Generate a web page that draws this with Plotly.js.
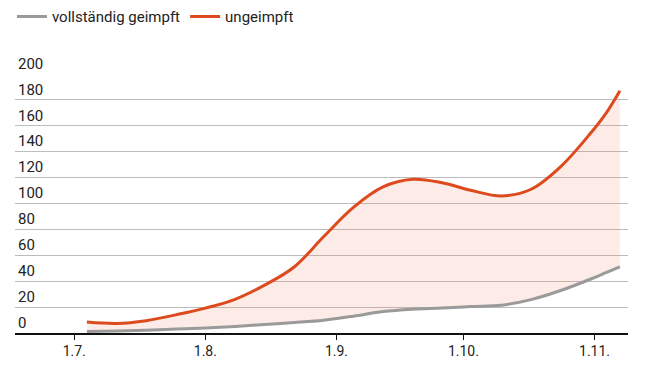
<!DOCTYPE html>
<html>
<head>
<meta charset="utf-8">
<script src="https://cdn.plot.ly/plotly-3.0.1.min.js"></script>
<style>html,body{margin:0;padding:0;background:#fff;}#chart{width:645px;height:374px;}</style>
</head>
<body>
<div id="chart"></div>
<script>
const dates = ['2021-07-04','2021-07-11','2021-07-18','2021-07-25','2021-08-01','2021-08-08','2021-08-15','2021-08-22','2021-08-29','2021-09-05','2021-09-12','2021-09-19','2021-09-26','2021-10-03','2021-10-10','2021-10-17','2021-10-24','2021-10-31','2021-11-04','2021-11-07'];
const vollstaendig = [1.2,1.6,2.2,3.0,3.8,5.0,6.6,8.1,9.9,13.0,16.6,18.4,19.3,20.5,21.5,25.8,32.8,41.5,47,51];
const ungeimpft = [8.5,7.4,9.5,14,19.2,26,37,51,74.5,97,112.8,118.7,116,110,105.8,111,128.5,154,171,187];
const tickVals = ['2021-07-01','2021-08-01','2021-09-01','2021-10-01','2021-11-01'];
const tickText = ['1.7.','1.8.','1.9.','1.10.','1.11.'];
const yTicks = [0,20,40,60,80,100,120,140,160,180,200];

const font = 'Roboto, "Noto Sans", sans-serif';
const traces = [
  {x: dates, y: vollstaendig, name: 'vollständig geimpft', type: 'scatter', mode: 'lines',
   line: {color: '#9a9a9a', width: 3, shape: 'spline', smoothing: 1}},
  {x: dates, y: ungeimpft, name: 'Abstand', type: 'scatter', mode: 'lines', showlegend: false,
   fill: 'tonexty', fillcolor: 'rgba(232,120,90,0.15)',
   line: {color: 'rgba(0,0,0,0)', width: 0, shape: 'spline', smoothing: 1}, hoverinfo: 'skip'},
  {x: dates, y: ungeimpft, name: 'ungeimpft', type: 'scatter', mode: 'lines',
   line: {color: '#dc4a1e', width: 3, shape: 'spline', smoothing: 1}}
];
const layout = {
  width: 645, height: 374,
  margin: {l: 15, r: 17, t: 74, b: 41, autoexpand: false},
  paper_bgcolor: '#fff', plot_bgcolor: '#fff',
  font: {family: font, size: 14, color: '#222'},
  showlegend: true,
  legend: {orientation: 'h', x: -0.005, xanchor: 'left', y: 1.285, yanchor: 'top',
           font: {size: 15, color: '#222'}, itemwidth: 30, traceorder: 'normal'},
  xaxis: {type: 'date', range: ['2021-06-17', '2021-11-08 22:00'],
          tickvals: tickVals, ticktext: tickText,
          showgrid: false, zeroline: false, showline: true, linecolor: '#111', linewidth: 1.5,
          ticks: 'outside', ticklen: 5, tickcolor: '#111', tickwidth: 1,
          tickfont: {size: 14, color: '#222'}, fixedrange: true},
  yaxis: {range: [0, 200], tickvals: yTicks, ticktext: yTicks.map(String),
          showgrid: true, gridcolor: '#bdbdbd', gridwidth: 1, zeroline: false,
          showline: false, ticks: '', ticklabelposition: 'inside top', ticklabeloverflow: 'allow',
          tickfont: {size: 15, color: '#222'}, fixedrange: true}
};
Plotly.newPlot('chart', traces, layout, {displayModeBar: false, staticPlot: true});
</script>
</body>
</html>
